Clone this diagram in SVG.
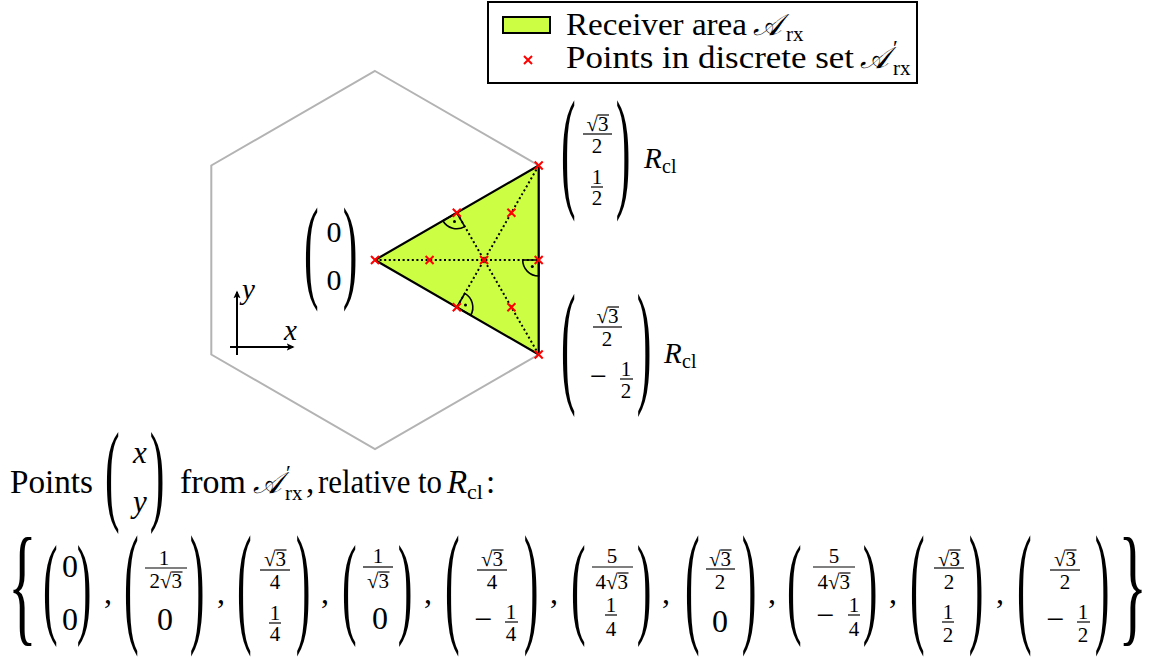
<svg xmlns="http://www.w3.org/2000/svg" width="1162" height="659" viewBox="0 0 1162 659">
<defs>
<style>
.t{font-family:"Liberation Serif","Times New Roman",serif;fill:#000}
.m{font-size:32px}
.f{font-size:21px}
.i{font-style:italic}
.cal{font-family:"DejaVu Serif","DejaVu Sans","Noto Sans",serif;font-style:italic;fill:#000}
.p{font-family:"Liberation Serif",serif;font-size:44px;fill:#000}
.br{font-family:"Liberation Serif",serif;font-size:60px;fill:#000}
.b{stroke:#000;stroke-width:1.2}
.mk{fill:none;stroke:#000;stroke-width:1.6}
.dot{fill:#000}
.ax{stroke:#000;stroke-width:2;fill:none}
.dl{stroke:#000;stroke-width:2;stroke-dasharray:2 2.6;fill:none}
</style>
<path id="cross" d="M-4,-4L4,4M-4,4L4,-4" stroke="#ff0000" stroke-width="2" fill="none"/>
<marker id="ah" viewBox="0 0 10 10" refX="8" refY="5" markerWidth="4" markerHeight="4" orient="auto" markerUnits="strokeWidth">
<path d="M0,0.5 L10,5 L0,9.5 L2.5,5 z" fill="#000"/>
</marker>
</defs>
<rect width="1162" height="659" fill="#fff"/>

<g id="legend">
<rect x="488" y="2" width="429" height="81" fill="#fff" stroke="#000" stroke-width="2"/>
<rect x="503" y="17" width="47" height="16" fill="#ccff44" stroke="#000" stroke-width="2"/>
<use href="#cross" x="528" y="60"/>
<text class="t" x="566" y="35" font-size="32" textLength="181" lengthAdjust="spacingAndGlyphs">Receiver area</text>
<text class="cal" x="753" y="35" font-size="30">𝒜</text>
<text class="t" x="786" y="41" font-size="21">rx</text>
<text class="t" x="566" y="68" font-size="32" textLength="288" lengthAdjust="spacingAndGlyphs">Points in discrete set</text>
<text class="cal" x="860" y="68" font-size="30">𝒜</text>
<text class="t" x="893" y="55" font-size="22">′</text>
<text class="t" x="893" y="75" font-size="21">rx</text>
</g>

<g id="hexagon">
<polygon points="375,71 538.7,165.5 538.7,354.5 375,449 211.3,354.5 211.3,165.5" fill="none" stroke="#b3b3b3" stroke-width="2"/>
</g>

<g id="triangle">
<polygon points="375,260 538.7,165.5 538.7,354.5" fill="#ccff44" stroke="#000" stroke-width="2.2" stroke-linejoin="round"/>
</g>

<g id="connectors">
<line class="dl" x1="375" y1="260" x2="538.7" y2="260"/>
<line class="dl" x1="538.7" y1="165.5" x2="456.8" y2="307.25"/>
<line class="dl" x1="538.7" y1="354.5" x2="456.8" y2="212.75"/>
</g>

<g id="right-angles">
<path class="mk" d="M538.7,260 L522.7,260 A16,16 0 0,0 538.7,276 Z"/>
<circle class="dot" cx="532.3" cy="266.4" r="1.5"/>
<path class="mk" d="M456.8,212.75 L442.9,220.75 A16,16 0 0,0 464.8,226.6 Z"/>
<circle class="dot" cx="454.5" cy="221.4" r="1.5"/>
<path class="mk" d="M456.8,307.25 L464.8,293.4 A16,16 0 0,1 470.7,315.25 Z"/>
<circle class="dot" cx="465.5" cy="304.9" r="1.5"/>
</g>

<g id="points">
<use href="#cross" x="375" y="260"/>
<use href="#cross" x="429.6" y="260"/>
<use href="#cross" x="484.1" y="260"/>
<use href="#cross" x="538.7" y="260"/>
<use href="#cross" x="456.8" y="212.75"/>
<use href="#cross" x="456.8" y="307.25"/>
<use href="#cross" x="511.4" y="212.75"/>
<use href="#cross" x="511.4" y="307.25"/>
<use href="#cross" x="538.7" y="165.5"/>
<use href="#cross" x="538.7" y="354.5"/>
</g>

<g id="axes">
<line class="ax" x1="237" y1="355" x2="237" y2="292" marker-end="url(#ah)"/>
<line class="ax" x1="230" y1="347" x2="293" y2="347" marker-end="url(#ah)"/>
<text class="t i" x="242" y="299" font-size="29">y</text>
<text class="t i" x="284" y="340" font-size="29">x</text>
</g>

<g id="label-origin">
<text class="p" transform="translate(303.9,286.8) scale(1,2.587)">(</text>
<text class="p" transform="translate(342.7,286.8) scale(1,2.587)">)</text>
<text class="t" x="334" y="242" font-size="30" text-anchor="middle">0</text>
<text class="t" x="334" y="290" font-size="30" text-anchor="middle">0</text>
</g>

<g id="label-top">
<text class="p" transform="translate(560.9,193.3) scale(1,3.04)">(</text>
<text class="p" transform="translate(615.7,193.3) scale(1,3.04)">)</text>
<text class="t f" x="598" y="131" text-anchor="end">√</text>
<text class="t f" x="598" y="131">3</text>
<line class="b" x1="598" y1="115" x2="609" y2="115"/>
<line class="b" x1="583" y1="134" x2="612" y2="134"/>
<text class="t f" x="597" y="153" text-anchor="middle">2</text>
<text class="t f" x="597" y="184" text-anchor="middle">1</text>
<line class="b" x1="591" y1="187" x2="603" y2="187"/>
<text class="t f" x="597" y="205" text-anchor="middle">2</text>
<text class="t i" x="644" y="168" font-size="29">R</text>
<text class="t" x="662" y="173" font-size="20">cl</text>
</g>

<g id="label-bottom">
<text class="p" transform="translate(560.9,388.1) scale(1,3.067)">(</text>
<text class="p" transform="translate(636.7,388.1) scale(1,3.067)">)</text>
<text class="t f" x="608" y="323" text-anchor="end">√</text>
<text class="t f" x="608" y="323">3</text>
<line class="b" x1="608" y1="307" x2="619" y2="307"/>
<line class="b" x1="593" y1="327" x2="622" y2="327"/>
<text class="t f" x="607" y="346" text-anchor="middle">2</text>
<text class="t" x="598.5" y="386" font-size="30" text-anchor="middle">−</text>
<text class="t f" x="626" y="376" text-anchor="middle">1</text>
<line class="b" x1="620" y1="379" x2="633" y2="379"/>
<text class="t f" x="626" y="398" text-anchor="middle">2</text>
<text class="t i" x="664" y="363" font-size="29">R</text>
<text class="t" x="682" y="368" font-size="20">cl</text>
</g>

<g id="caption">
<text class="t" x="10" y="493" font-size="33" textLength="83" lengthAdjust="spacingAndGlyphs">Points</text>
<text class="p" transform="translate(104.9,510.2) scale(1,2.533)">(</text>
<text class="p" transform="translate(149.7,510.2) scale(1,2.533)">)</text>
<text class="t i" x="140" y="463" font-size="31" text-anchor="middle">x</text>
<text class="t i" x="140" y="512" font-size="31" text-anchor="middle">y</text>
<text class="t" x="180" y="493" font-size="33" textLength="66" lengthAdjust="spacingAndGlyphs">from</text>
<text class="cal" x="253" y="493" font-size="30">𝒜</text>
<text class="t" x="286" y="480" font-size="22">′</text>
<text class="t" x="285" y="500" font-size="21">rx</text>
<text class="t" x="306" y="493" font-size="33">,</text>
<text class="t" x="318" y="493" font-size="33" textLength="124" lengthAdjust="spacingAndGlyphs">relative to</text>
<text class="t i" x="447" y="493" font-size="33">R</text>
<text class="t" x="467" y="499" font-size="22">cl</text>
<text class="t" x="486" y="493" font-size="33">:</text>
</g>

<g id="point-set">
<text class="br" transform="translate(8,628) scale(1,2.205)">{</text>
<text class="br" transform="translate(1118.2,628) scale(1,2.205)">}</text>

<text class="p" transform="translate(42.9,623) scale(1,2.56)">(</text>
<text class="p" transform="translate(76.7,623) scale(1,2.56)">)</text>
<text class="t m" x="70" y="577" text-anchor="middle">0</text>
<text class="t m" x="70" y="630" text-anchor="middle">0</text>
<text class="t m" x="104" y="603">,</text>

<text class="p" transform="translate(123.9,628.3) scale(1,3.04)">(</text>
<text class="p" transform="translate(189.7,628.3) scale(1,3.04)">)</text>
<text class="t f" x="164" y="565" text-anchor="middle">1</text>
<line class="b" x1="145" y1="568" x2="187" y2="568"/>
<text class="t f" x="171.5" y="588" text-anchor="end">2√</text>
<text class="t f" x="171.5" y="588">3</text>
<line class="b" x1="171.5" y1="572" x2="182.5" y2="572"/>
<text class="t m" x="165" y="630" text-anchor="middle">0</text>
<text class="t m" x="217" y="603">,</text>

<text class="p" transform="translate(236.9,628.3) scale(1,3.04)">(</text>
<text class="p" transform="translate(295.7,628.3) scale(1,3.04)">)</text>
<text class="t f" x="275.5" y="566" text-anchor="end">√</text>
<text class="t f" x="275.5" y="566">3</text>
<line class="b" x1="275.5" y1="550" x2="286.5" y2="550"/>
<line class="b" x1="260" y1="570" x2="290" y2="570"/>
<text class="t f" x="275" y="589" text-anchor="middle">4</text>
<text class="t f" x="275" y="620" text-anchor="middle">1</text>
<line class="b" x1="269" y1="623" x2="281" y2="623"/>
<text class="t f" x="275" y="641" text-anchor="middle">4</text>
<text class="t m" x="321" y="603">,</text>

<text class="p" transform="translate(341.9,623) scale(1,2.56)">(</text>
<text class="p" transform="translate(397.7,623) scale(1,2.56)">)</text>
<text class="t f" x="378" y="563" text-anchor="middle">1</text>
<line class="b" x1="363" y1="567" x2="393" y2="567"/>
<text class="t f" x="378.5" y="588" text-anchor="end">√</text>
<text class="t f" x="378.5" y="588">3</text>
<line class="b" x1="378.5" y1="572" x2="389.5" y2="572"/>
<text class="t m" x="380" y="629" text-anchor="middle">0</text>
<text class="t m" x="424" y="603">,</text>

<text class="p" transform="translate(444.9,628.3) scale(1,3.04)">(</text>
<text class="p" transform="translate(523.7,628.3) scale(1,3.04)">)</text>
<text class="t f" x="492.5" y="566" text-anchor="end">√</text>
<text class="t f" x="492.5" y="566">3</text>
<line class="b" x1="492.5" y1="550" x2="503.5" y2="550"/>
<line class="b" x1="477" y1="570" x2="507" y2="570"/>
<text class="t f" x="492" y="589" text-anchor="middle">4</text>
<text class="t m" x="483" y="630" text-anchor="middle">−</text>
<text class="t f" x="511" y="619" text-anchor="middle">1</text>
<line class="b" x1="505" y1="622" x2="518" y2="622"/>
<text class="t f" x="511" y="641" text-anchor="middle">4</text>
<text class="t m" x="550" y="603">,</text>

<text class="p" transform="translate(570.9,623) scale(1,2.56)">(</text>
<text class="p" transform="translate(636.7,623) scale(1,2.56)">)</text>
<text class="t f" x="612" y="563" text-anchor="middle">5</text>
<line class="b" x1="592" y1="567" x2="633" y2="567"/>
<text class="t f" x="617.5" y="589" text-anchor="end">4√</text>
<text class="t f" x="617.5" y="589">3</text>
<line class="b" x1="617.5" y1="573" x2="628.5" y2="573"/>
<text class="t f" x="611" y="612" text-anchor="middle">1</text>
<line class="b" x1="605" y1="615" x2="617" y2="615"/>
<text class="t f" x="611" y="636" text-anchor="middle">4</text>
<text class="t m" x="662" y="603">,</text>

<text class="p" transform="translate(684.9,628.3) scale(1,3.04)">(</text>
<text class="p" transform="translate(741.7,628.3) scale(1,3.04)">)</text>
<text class="t f" x="720.5" y="566" text-anchor="end">√</text>
<text class="t f" x="720.5" y="566">3</text>
<line class="b" x1="720.5" y1="550" x2="731.5" y2="550"/>
<line class="b" x1="706" y1="569" x2="735" y2="569"/>
<text class="t f" x="720" y="589" text-anchor="middle">2</text>
<text class="t m" x="720" y="632" text-anchor="middle">0</text>
<text class="t m" x="768" y="603">,</text>

<text class="p" transform="translate(786.9,623) scale(1,2.56)">(</text>
<text class="p" transform="translate(862.7,623) scale(1,2.56)">)</text>
<text class="t f" x="834" y="563" text-anchor="middle">5</text>
<line class="b" x1="813" y1="567" x2="855" y2="567"/>
<text class="t f" x="839.5" y="589" text-anchor="end">4√</text>
<text class="t f" x="839.5" y="589">3</text>
<line class="b" x1="839.5" y1="573" x2="850.5" y2="573"/>
<text class="t m" x="825" y="626" text-anchor="middle">−</text>
<text class="t f" x="854" y="612" text-anchor="middle">1</text>
<line class="b" x1="848" y1="615" x2="860" y2="615"/>
<text class="t f" x="854" y="636" text-anchor="middle">4</text>
<text class="t m" x="889" y="603">,</text>

<text class="p" transform="translate(909.9,628.3) scale(1,3.04)">(</text>
<text class="p" transform="translate(968.7,628.3) scale(1,3.04)">)</text>
<text class="t f" x="949.5" y="566" text-anchor="end">√</text>
<text class="t f" x="949.5" y="566">3</text>
<line class="b" x1="949.5" y1="550" x2="960.5" y2="550"/>
<line class="b" x1="934" y1="568" x2="964" y2="568"/>
<text class="t f" x="949" y="589" text-anchor="middle">2</text>
<text class="t f" x="948" y="619" text-anchor="middle">1</text>
<line class="b" x1="942" y1="622" x2="954" y2="622"/>
<text class="t f" x="948" y="642" text-anchor="middle">2</text>
<text class="t m" x="996" y="603">,</text>

<text class="p" transform="translate(1016.9,628.3) scale(1,3.04)">(</text>
<text class="p" transform="translate(1094.7,628.3) scale(1,3.04)">)</text>
<text class="t f" x="1065.5" y="566" text-anchor="end">√</text>
<text class="t f" x="1065.5" y="566">3</text>
<line class="b" x1="1065.5" y1="550" x2="1076.5" y2="550"/>
<line class="b" x1="1050" y1="570" x2="1080" y2="570"/>
<text class="t f" x="1065" y="589" text-anchor="middle">2</text>
<text class="t m" x="1055" y="630" text-anchor="middle">−</text>
<text class="t f" x="1083" y="619" text-anchor="middle">1</text>
<line class="b" x1="1077" y1="622" x2="1090" y2="622"/>
<text class="t f" x="1083" y="642" text-anchor="middle">2</text>
</g>
</svg>
